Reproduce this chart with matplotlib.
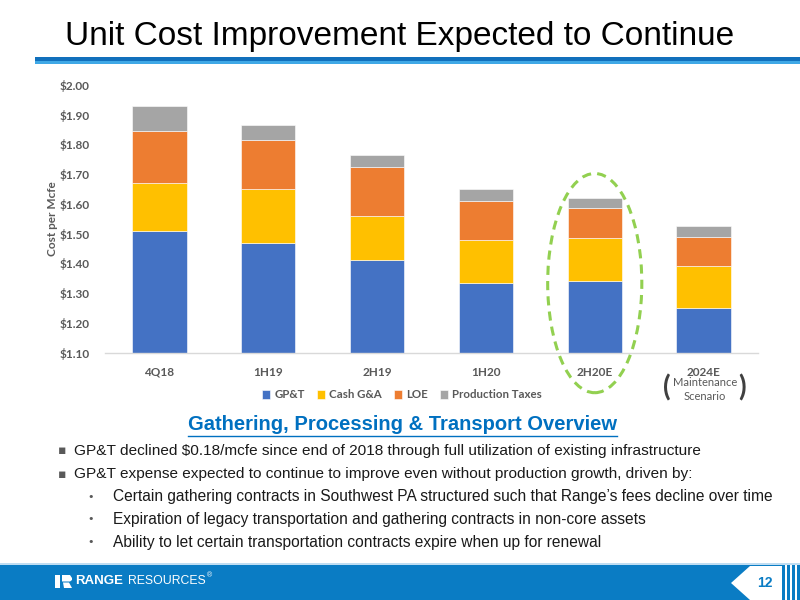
import matplotlib.pyplot as plt
from matplotlib.patches import Rectangle, Polygon, Ellipse
import numpy as np

# data
periods = ['4Q18', '1H19', '2H19', '1H20', '2H20E', '2024E']
gpt = [1.51, 1.47, 1.41, 1.335, 1.34, 1.25]
cash_ga = [0.16, 0.18, 0.15, 0.145, 0.145, 0.14]
loe = [0.175, 0.165, 0.165, 0.13, 0.10, 0.10]
prod_tax = [0.085, 0.05, 0.04, 0.04, 0.035, 0.035]
series_names = ['GP&T', 'Cash G&A', 'LOE', 'Production Taxes']
series_colors = ['#4472C4', '#FFC000', '#ED7D31', '#A5A5A5']
yticks = [1.10, 1.20, 1.30, 1.40, 1.50, 1.60, 1.70, 1.80, 1.90, 2.00]

bullets = [
    'GP&T declined $0.18/mcfe since end of 2018 through full utilization of existing infrastructure',
    'GP&T expense expected to continue to improve even without production growth, driven by:',
]
sub_bullets = [
    'Certain gathering contracts in Southwest PA structured such that Range\u2019s fees decline over time',
    'Expiration of legacy transportation and gathering contracts in non-core assets',
    'Ability to let certain transportation contracts expire when up for renewal',
]

W, H = 800, 600
fig = plt.figure(figsize=(8, 6), dpi=100)

# background layer in pixel coordinates
bg = fig.add_axes([0, 0, 1, 1], zorder=0)
bg.set_xlim(0, W)
bg.set_ylim(H, 0)
bg.axis('off')

arial = ['Liberation Sans', 'DejaVu Sans']
cal = ['Lato', 'DejaVu Sans']

# title and blue rule
bg.text(65, 36, 'Unit Cost Improvement Expected to Continue', fontsize=24,
        family=arial, color='black', va='center', ha='left')
bg.add_patch(Rectangle((35, 57), W - 35, 3.5, color='#1170BC', lw=0))
bg.add_patch(Rectangle((35, 60.5), W - 35, 3.5, color='#3FA8E6', lw=0))

# chart
ax = fig.add_axes([105 / W, 1 - 352.7 / H, 653 / W, (352.7 - 85) / H], zorder=1)
ax.patch.set_alpha(0)
x = np.arange(len(periods))
bottom = np.zeros(len(periods))
for vals, name, col in zip([gpt, cash_ga, loe, prod_tax], series_names, series_colors):
    ax.bar(x, vals, 0.5, bottom=bottom, color=col, label=name,
           edgecolor='white', linewidth=0.4)
    bottom += np.array(vals)

ax.set_ylim(1.10, 2.00)
ax.set_xlim(-0.5, len(periods) - 0.5)
ax.set_yticks(yticks)
ax.set_yticklabels(['${:.2f}'.format(v) for v in yticks])
ax.set_xticks(x)
ax.set_xticklabels(periods)
for lab in ax.get_xticklabels() + ax.get_yticklabels():
    lab.set_family(cal)
    lab.set_fontweight('bold')
    lab.set_fontsize(8.5)
    lab.set_color('#595959')
ax.tick_params(axis='y', length=0, pad=11)
ax.tick_params(axis='x', length=0, pad=10)
for s in ['top', 'right', 'left']:
    ax.spines[s].set_visible(False)
ax.spines['bottom'].set_color('#D9D9D9')
ax.spines['bottom'].set_linewidth(1)

fig.text(52 / W, 1 - 219 / H, 'Cost per Mcfe', rotation=90, ha='center', va='center',
         family=cal, fontweight='bold', fontsize=8.5, color='#595959')

leg = ax.legend(loc='center', bbox_to_anchor=(402 / W, 1 - 395 / H),
                bbox_transform=fig.transFigure, ncol=4, frameon=False,
                handlelength=0.7, handleheight=0.7, handletextpad=0.4,
                columnspacing=1.0, prop={'family': cal, 'weight': 'bold', 'size': 8.3})
for t in leg.get_texts():
    t.set_color('#595959')

# highlight around 2H20E
ax.add_patch(Ellipse((4, 1.334), 0.865, 0.737, fill=False, edgecolor='#92D050',
                     linewidth=2.2, linestyle=(0, (3, 2)), clip_on=False, zorder=5))

# maintenance scenario note
bg.text(705, 382, 'Maintenance', ha='center', va='center', family=cal,
        fontsize=8, color='#595959')
bg.text(705, 397, 'Scenario', ha='center', va='center', family=cal,
        fontsize=8, color='#595959')
bg.text(667, 388, '(', ha='center', va='center', family=cal, fontsize=20,
        fontweight='bold', color='#404040')
bg.text(742, 388, ')', ha='center', va='center', family=cal, fontsize=20,
        fontweight='bold', color='#404040')

# subtitle with underline
sub = bg.text(402, 425, 'Gathering, Processing & Transport Overview', ha='center',
              va='center', family=arial, fontsize=14.5, fontweight='bold', color='#0070C0')
fig.canvas.draw()
rend = fig.canvas.get_renderer()
bb = sub.get_window_extent(rend)
bg.plot([bb.x0, bb.x1], [H - bb.y0 + 1, H - bb.y0 + 1], color='#0070C0', lw=1)

# bullet text
for i, txt in enumerate(bullets):
    y = 451 + 23 * i
    bg.text(62, y, '\u25aa', ha='center', va='center', fontsize=9,
            family=['DejaVu Sans'], color='#595959')
    bg.text(74, y, txt, ha='left', va='center', family=arial, fontsize=11.1, color='#1a1a1a')
for i, txt in enumerate(sub_bullets):
    y = 497 + 22.5 * i
    bg.text(91, y, '\u2022', ha='center', va='center', fontsize=8,
            family=['DejaVu Sans'], color='#595959')
    bg.text(113, y, txt, ha='left', va='center', family=arial, fontsize=11.2, color='#1a1a1a')

# footer band
bg.add_patch(Rectangle((0, 563), W, 2, color='#BFDDF2', lw=0))
bg.add_patch(Rectangle((0, 565), W, 35, color='#0A7CC4', lw=0))
bg.add_patch(Polygon([(731, 583), (750, 566), (782, 566), (782, 600), (750, 600)],
                     closed=True, color='white', lw=0))
bg.text(765, 583, '12', ha='center', va='center', family=arial, fontsize=10,
        fontweight='bold', color='#0A7CC4')
for sx, sw in [(784.5, 2.5), (790, 2), (795, 2)]:
    bg.add_patch(Rectangle((sx, 565), sw, 35, color='white', lw=0))

# logo mark
bg.add_patch(Rectangle((55, 575), 5, 13, color='white', lw=0))
bg.add_patch(Polygon([(62, 575), (70, 575), (72, 578), (72, 580), (70, 581.5),
                      (62, 581.5)], closed=True, color='white', lw=0))
bg.add_patch(Polygon([(63, 582.5), (69, 582.5), (72, 588), (64, 588)],
                     closed=True, color='white', lw=0))
rng = bg.text(75, 581, 'RANGE', ha='left', va='center', family=arial, fontsize=9.5,
              fontweight='bold', color='white')
fig.canvas.draw()
rend = fig.canvas.get_renderer()
rb = rng.get_window_extent(rend)
res = bg.text(rb.x1 + 5, 581, 'RESOURCES', ha='left', va='center', family=arial,
              fontsize=8.8, color='white')
fig.canvas.draw()
sb = res.get_window_extent(fig.canvas.get_renderer())
bg.text(sb.x1 + 1.5, 576, '\u00ae', ha='left', va='center', family=arial, fontsize=5,
        color='white')

fig.savefig('out.png', dpi=100)
